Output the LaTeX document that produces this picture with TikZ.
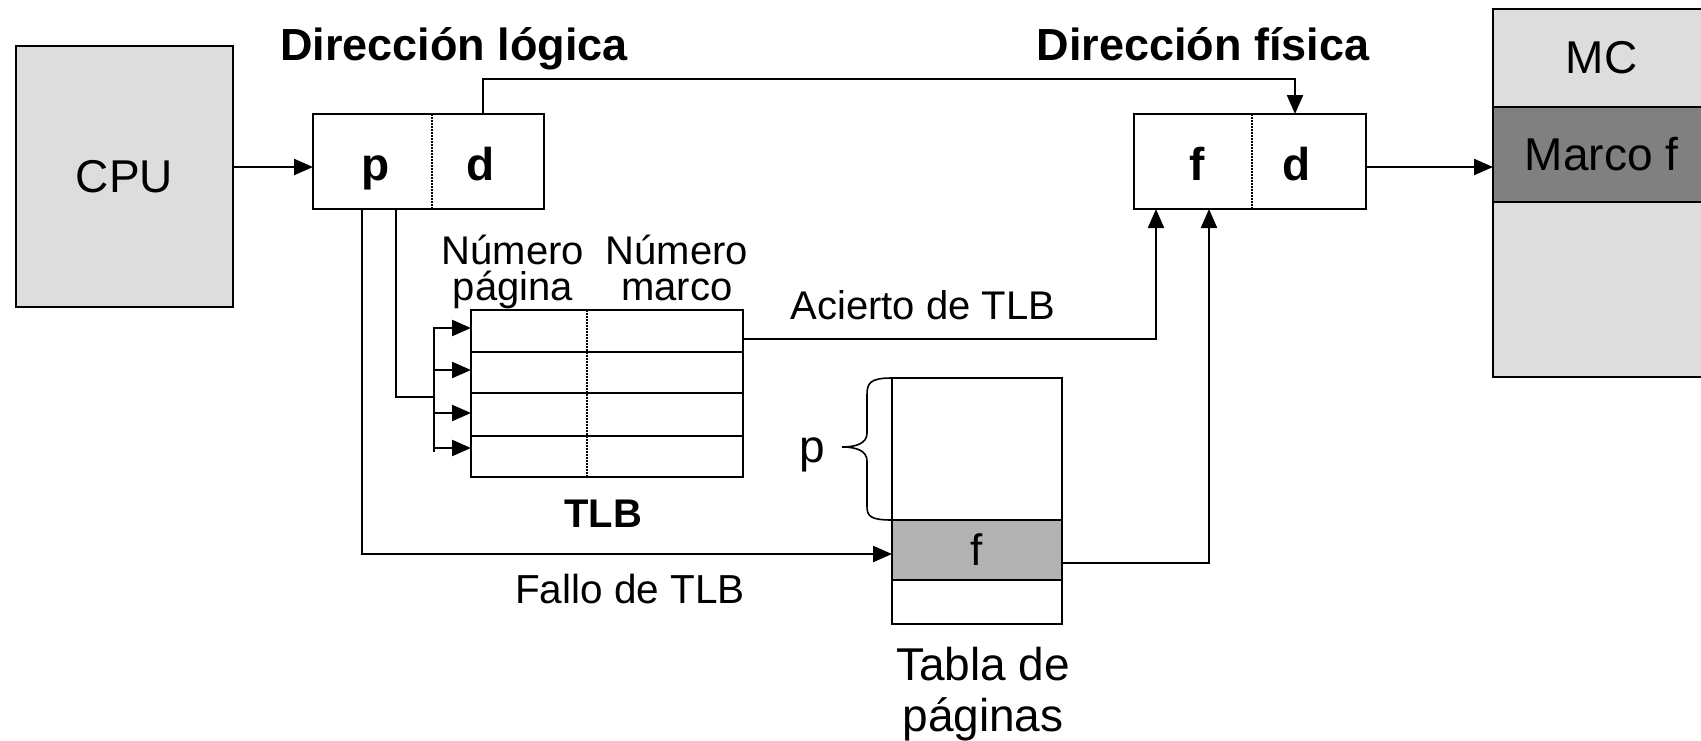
\documentclass[tikz,border=0pt]{standalone}
\usepackage{fontspec}
\setmainfont{Liberation Sans}
\usetikzlibrary{arrows.meta}
\definecolor{lgray}{RGB}{221,221,221}
\definecolor{dgray}{RGB}{128,128,128}
\definecolor{mgray}{RGB}{178,178,178}
\begin{document}
\begin{tikzpicture}[x=1pt,y=-1pt,
  box/.style={draw=black, line width=2pt, inner sep=0pt, outer sep=0pt},
  conn/.style={line width=2.4pt},
  arr/.style={line width=2.2pt, -{Triangle[length=19pt,width=16pt]}},
  divider/.style={line width=1.5pt, dash pattern=on 1.5pt off 1.5pt},
  lbl/.style={inner sep=0pt, anchor=base},
  big/.style={font=\fontsize{46pt}{52pt}\selectfont},
  bigb/.style={font=\bfseries\fontsize{46pt}{52pt}\selectfont},
  title/.style={font=\bfseries\fontsize{45pt}{48pt}\selectfont}
]
\clip (0,0) rectangle (1701,740);
% ---------- boxes ----------
\node[box, fill=lgray, minimum width=217pt, minimum height=261pt, big] (cpu) at (124.5,176.5) {CPU};
\node[box, minimum width=231pt, minimum height=95pt] (la) at (428.5,161.5) {};
\node[box, minimum width=232pt, minimum height=95pt] (pa) at (1250,161.5) {};
\node[box, fill=lgray, minimum width=217pt, minimum height=98pt, big] (mct) at (1601.5,58) {MC};
\node[box, fill=dgray, minimum width=217pt, minimum height=95pt, big] (mcf) at (1601.5,154.5) {Marco f};
\node[box, fill=lgray, minimum width=217pt, minimum height=175pt] (mcb) at (1601.5,289.5) {};
% TLB rows
\node[box, minimum width=272pt, minimum height=42pt] (t1) at (607,331) {};
\node[box, minimum width=272pt, minimum height=41pt] (t2) at (607,372.5) {};
\node[box, minimum width=272pt, minimum height=43pt] (t3) at (607,414.5) {};
\node[box, minimum width=272pt, minimum height=41pt] (t4) at (607,456.5) {};
\coordinate (tdiv) at (587,0);
\draw[divider] (t1.north -| tdiv) -- (t4.south -| tdiv);
% page table
\node[box, minimum width=170pt, minimum height=142pt] (ptt) at (977,449) {};
\node[box, fill=mgray, minimum width=170pt, minimum height=60pt, font=\fontsize{44pt}{48pt}\selectfont] (ptf) at (977,550) {f};
\node[box, minimum width=170pt, minimum height=44pt] (ptb) at (977,602) {};
% dividers of addresses
\coordinate (ladiv) at (432,0);
\draw[divider] (la.north -| ladiv) -- (la.south -| ladiv);
\coordinate (padiv) at (1252,0);
\draw[divider] (pa.north -| padiv) -- (pa.south -| padiv);
% ---------- texts ----------
\node[lbl, bigb] (tp) at (376,180) {p};
\node[lbl, bigb] (td) at (481,180) {d};
\node[lbl, bigb] (tf) at (1197,180) {f};
\node[lbl, bigb] (td2) at (1297,180) {d};
\node[lbl, title] (tlog) at (454,60) {Dirección lógica};
\node[lbl, title] (tfis) at (1203,60) {Dirección física};
\node[lbl, align=center, font=\fontsize{40pt}{36pt}\selectfont] (npag) at (513,300) {Número\\página};
\node[lbl, align=center, font=\fontsize{40pt}{36pt}\selectfont] (nmar) at (677,300) {Número\\marco};
\node[lbl, font=\fontsize{40pt}{44pt}\selectfont] (acierto) at (923,319) {Acierto de TLB};
\node[lbl, font=\bfseries\fontsize{40pt}{44pt}\selectfont] (tlbl) at (603,527) {TLB};
\node[lbl, font=\fontsize{40.5pt}{46pt}\selectfont] (fallo) at (630,603) {Fallo de TLB};
\node[lbl, align=center, font=\fontsize{46pt}{51pt}\selectfont] (tabla) at (983,731) {Tabla de\\páginas};
\node[lbl, big] (plbl) at (812,462) {p};
% ---------- connectors ----------
\coordinate (ay) at (0,167);
\draw[arr] (cpu.east |- ay) -- (la.west |- ay);
\draw[arr] (pa.east |- ay) -- (mcf.west |- ay);
\coordinate (dl) at (483,0);
\coordinate (dp) at (1295,0);
\coordinate (topy) at (0,79);
\draw[arr] (la.north -| dl) -- (dl |- topy) -- (dp |- topy) -- (pa.north -| dp);
\coordinate (p1) at (362,0);
\coordinate (p2) at (396,0);
\coordinate (fi) at ([yshift=-4pt]ptf.west);
\draw[arr] (la.south -| p1) |- (fi);
\coordinate (jn) at (434,397);
\draw[conn] (la.south -| p2) |- (jn);
\coordinate (bt) at (434,327);
\coordinate (bb) at (434,452);
\draw[conn] (bt) -- (bb);
\coordinate (a1) at ([yshift=3pt]t1.west);
\coordinate (a2) at ([yshift=2.5pt]t2.west);
\coordinate (a3) at ([yshift=1.5pt]t3.west);
\coordinate (a4) at ([yshift=8.5pt]t4.west);
\foreach \a in {a1,a2,a3,a4} \draw[arr] (\a -| bt) -- (\a);
\coordinate (ac) at ([yshift=-8pt]t1.east);
\coordinate (hx) at (1156,0);
\draw[arr] (ac) -| (pa.south -| hx);
\coordinate (fo) at ([yshift=-13pt]ptf.east);
\coordinate (mx) at (1209,0);
\draw[arr] (fo) -| (pa.south -| mx);
% brace
\draw[line width=1.6pt] (ptt.north west) .. controls (870,378) and (867,383) .. (867,395) -- (867,433) .. controls (867,443) and (857,447) .. (842,447) .. controls (857,447) and (867,451) .. (867,461) -- (867,506) .. controls (867,516) and (870,520) .. (ptt.south west);
\end{tikzpicture}
\end{document}
